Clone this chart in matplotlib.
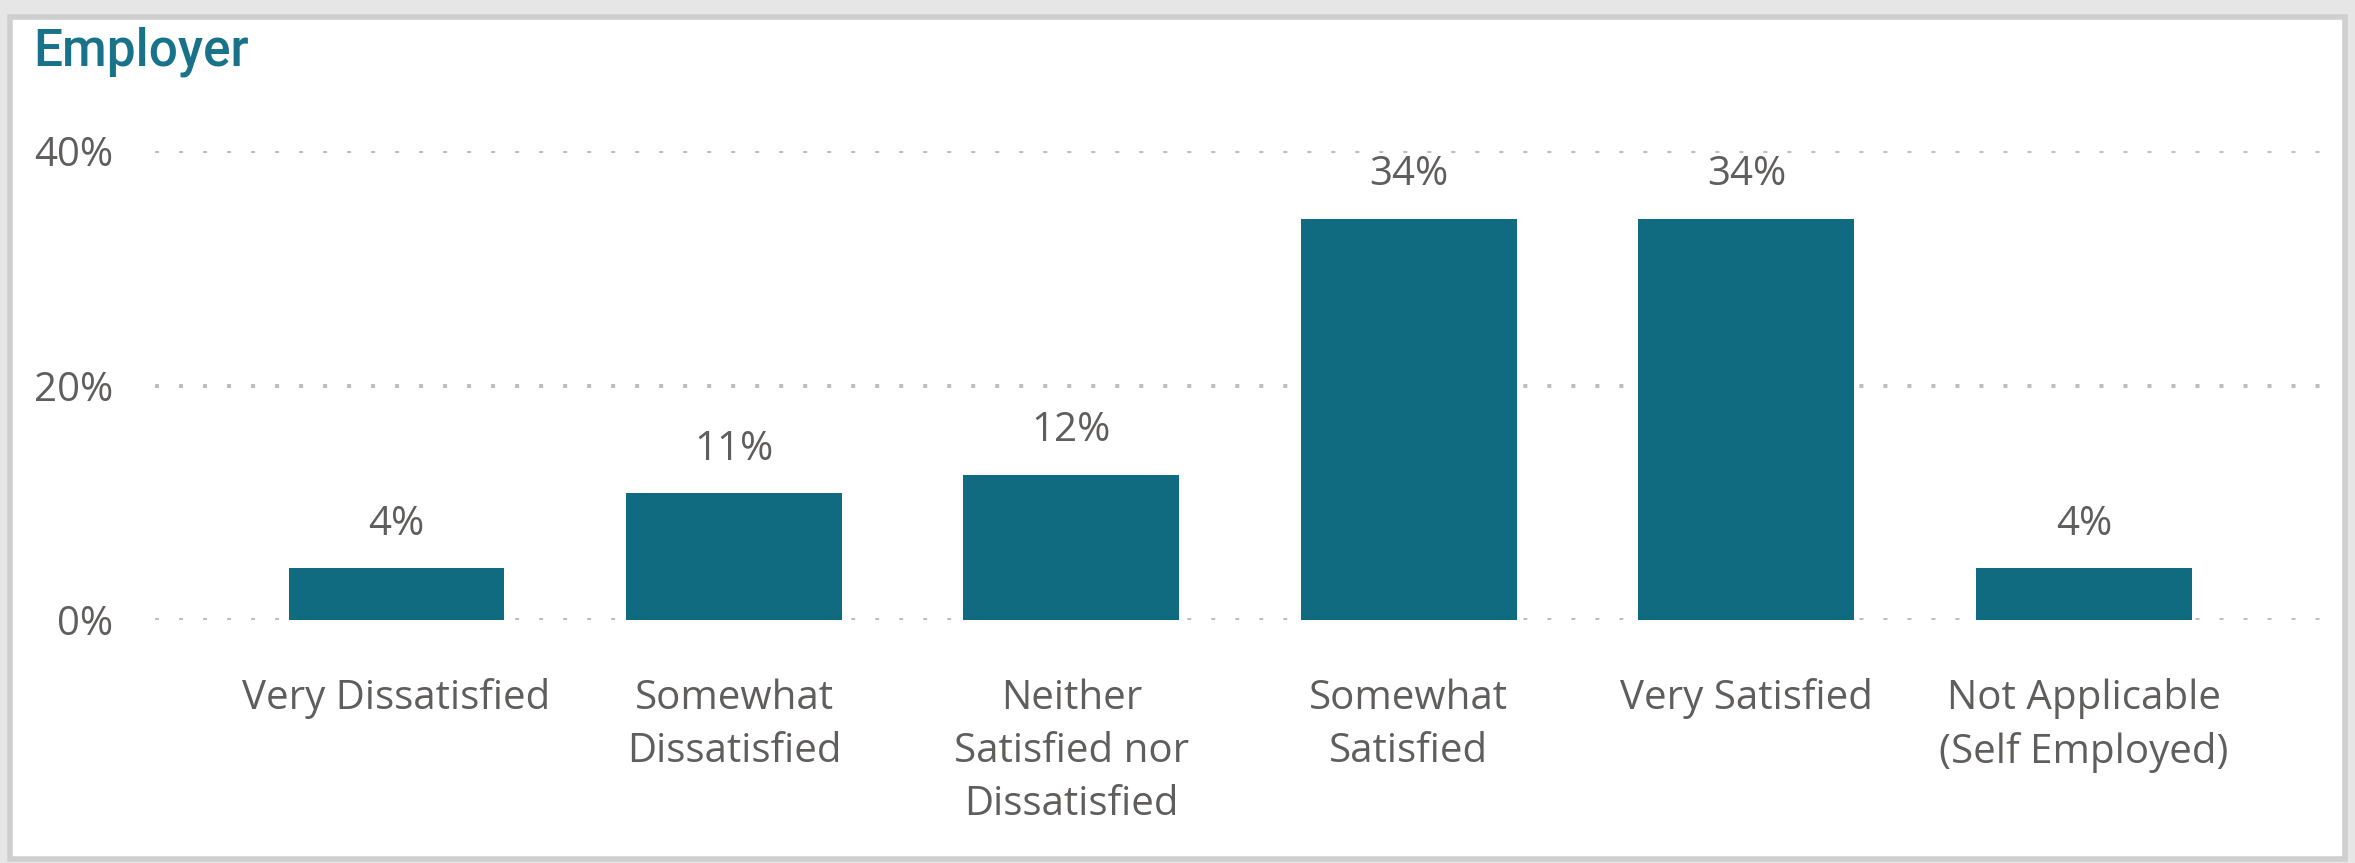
import matplotlib
matplotlib.use("Agg")
import matplotlib.pyplot as plt
from matplotlib.patches import Rectangle
from matplotlib.ticker import FuncFormatter

categories = ["Very Dissatisfied", "Somewhat\nDissatisfied", "Neither\nSatisfied nor\nDissatisfied",
              "Somewhat\nSatisfied", "Very Satisfied", "Not Applicable\n(Self Employed)"]
values = [4.4, 10.8, 12.4, 34.2, 34.2, 4.4]
y_ticks = [0, 20, 40]

bar_color = "#106B81"
text_color = "#605E5C"
title_color = "#17728A"
grid_color = "#BEBEBE"

plt.rcParams['font.family'] = ['Open Sans', 'DejaVu Sans']

fig = plt.figure(figsize=(23.55, 8.63), dpi=100)
fig.patch.set_facecolor("#E6E6E6")

# white visual panel with grey border
W, H = 2355, 863
panel = Rectangle((10 / W, 4 / H), (2345 - 10) / W, (846 - 4) / H, transform=fig.transFigure,
                  facecolor="white", edgecolor="#CFCFCF", linewidth=4, zorder=-10)
fig.patches.append(panel)

fig.text(33 / W, 1 - 52 / H, "Employer", color=title_color, fontsize=37, fontfamily="Roboto",
         fontweight="medium", ha="left", va="center")

ax = fig.add_axes([155 / W, 1 - 620 / H, (2337 - 155) / W, (620 - 151) / H])
ax.set_facecolor("none")
x = list(range(len(categories)))
bars = ax.bar(x, values, width=0.64, color=bar_color, zorder=3)

ax.set_xlim(-0.7156, 5.75)
ax.set_ylim(0, 40)
ax.set_yticks(y_ticks)
ax.yaxis.set_major_formatter(FuncFormatter(lambda v, p: f"{v:.0f}%"))
ax.yaxis.grid(True, color=grid_color, linestyle=(0, (1, 4.96)), linewidth=2.9,
              dash_capstyle="butt", zorder=0)
ax.set_axisbelow(True)
for s in ax.spines.values():
    s.set_visible(False)
ax.tick_params(axis="y", length=0, pad=30, labelsize=29, labelcolor=text_color)
ax.tick_params(axis="x", length=0, pad=42, labelsize=29, labelcolor=text_color)
ax.set_xticks(x)
ax.set_xticklabels(categories, linespacing=1.42)

for b, v in zip(bars, values):
    ax.annotate(f"{v:.0f}%", (b.get_x() + b.get_width() / 2, v), xytext=(0, 17),
                textcoords="offset points", ha="center", va="bottom",
                fontsize=29, color=text_color, clip_on=False)

fig.savefig("out.png", dpi=100, facecolor=fig.get_facecolor())
